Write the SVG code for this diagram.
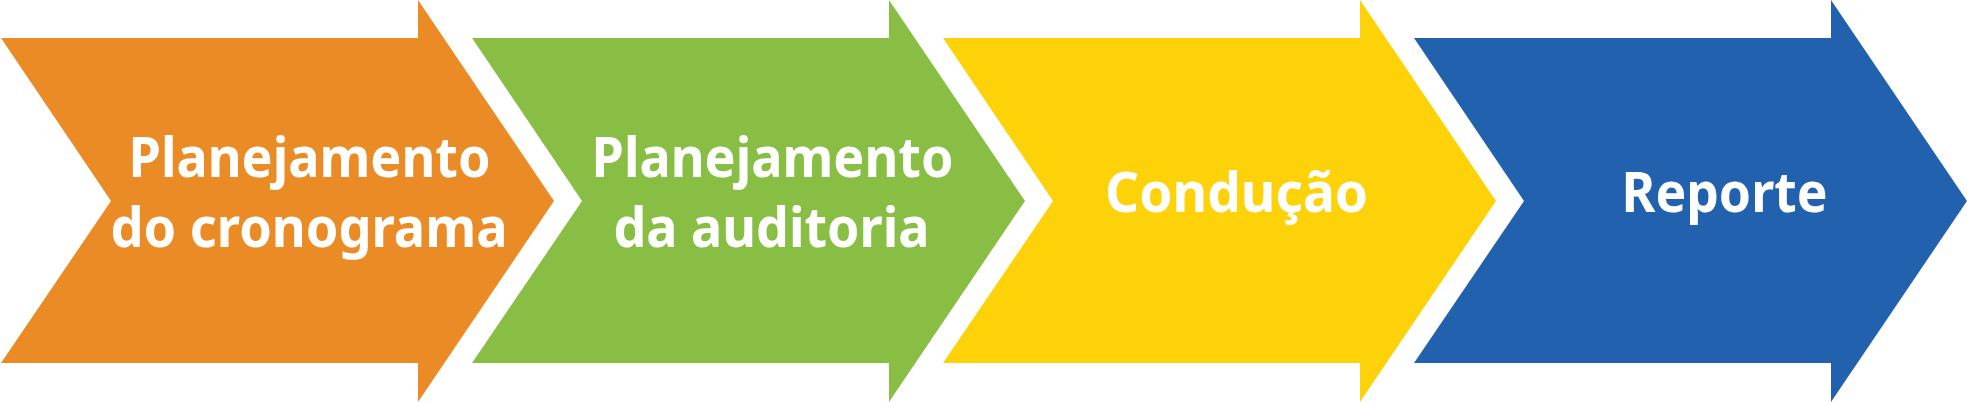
<svg xmlns="http://www.w3.org/2000/svg" width="1967" height="402" viewBox="0 0 1967 402">
<defs>
<style>
.lbl{font-family:"Noto Sans","Open Sans","Liberation Sans",sans-serif;font-weight:700;font-size:56px;fill:#ffffff;text-anchor:middle}
</style>
<polygon id="chev" points="1,38 418,38 418,0 554,201 418,402 418,363 1,363 111,201"/>
</defs>
<rect width="1967" height="402" fill="#ffffff"/>
<g id="connectors"></g>
<g id="node1">
<use href="#chev" fill="#EB8B26"/>
<text class="lbl" x="309.5" y="177" textLength="362" lengthAdjust="spacingAndGlyphs">Planejamento</text>
<text class="lbl" x="309" y="247" textLength="397" lengthAdjust="spacingAndGlyphs">do cronograma</text>
</g>
<g id="node2">
<use href="#chev" x="471" fill="#89BE44"/>
<text class="lbl" x="772.5" y="177" textLength="362" lengthAdjust="spacingAndGlyphs">Planejamento</text>
<text class="lbl" x="771.5" y="247" textLength="316" lengthAdjust="spacingAndGlyphs">da auditoria</text>
</g>
<g id="node3">
<use href="#chev" x="942" fill="#FDD208"/>
<text class="lbl" x="1236.6" y="212" textLength="263" lengthAdjust="spacingAndGlyphs">Condução</text>
</g>
<g id="node4">
<use href="#chev" x="1413" fill="#2261AE"/>
<text class="lbl" x="1724.5" y="212" textLength="206" lengthAdjust="spacingAndGlyphs">Reporte</text>
</g>
</svg>
